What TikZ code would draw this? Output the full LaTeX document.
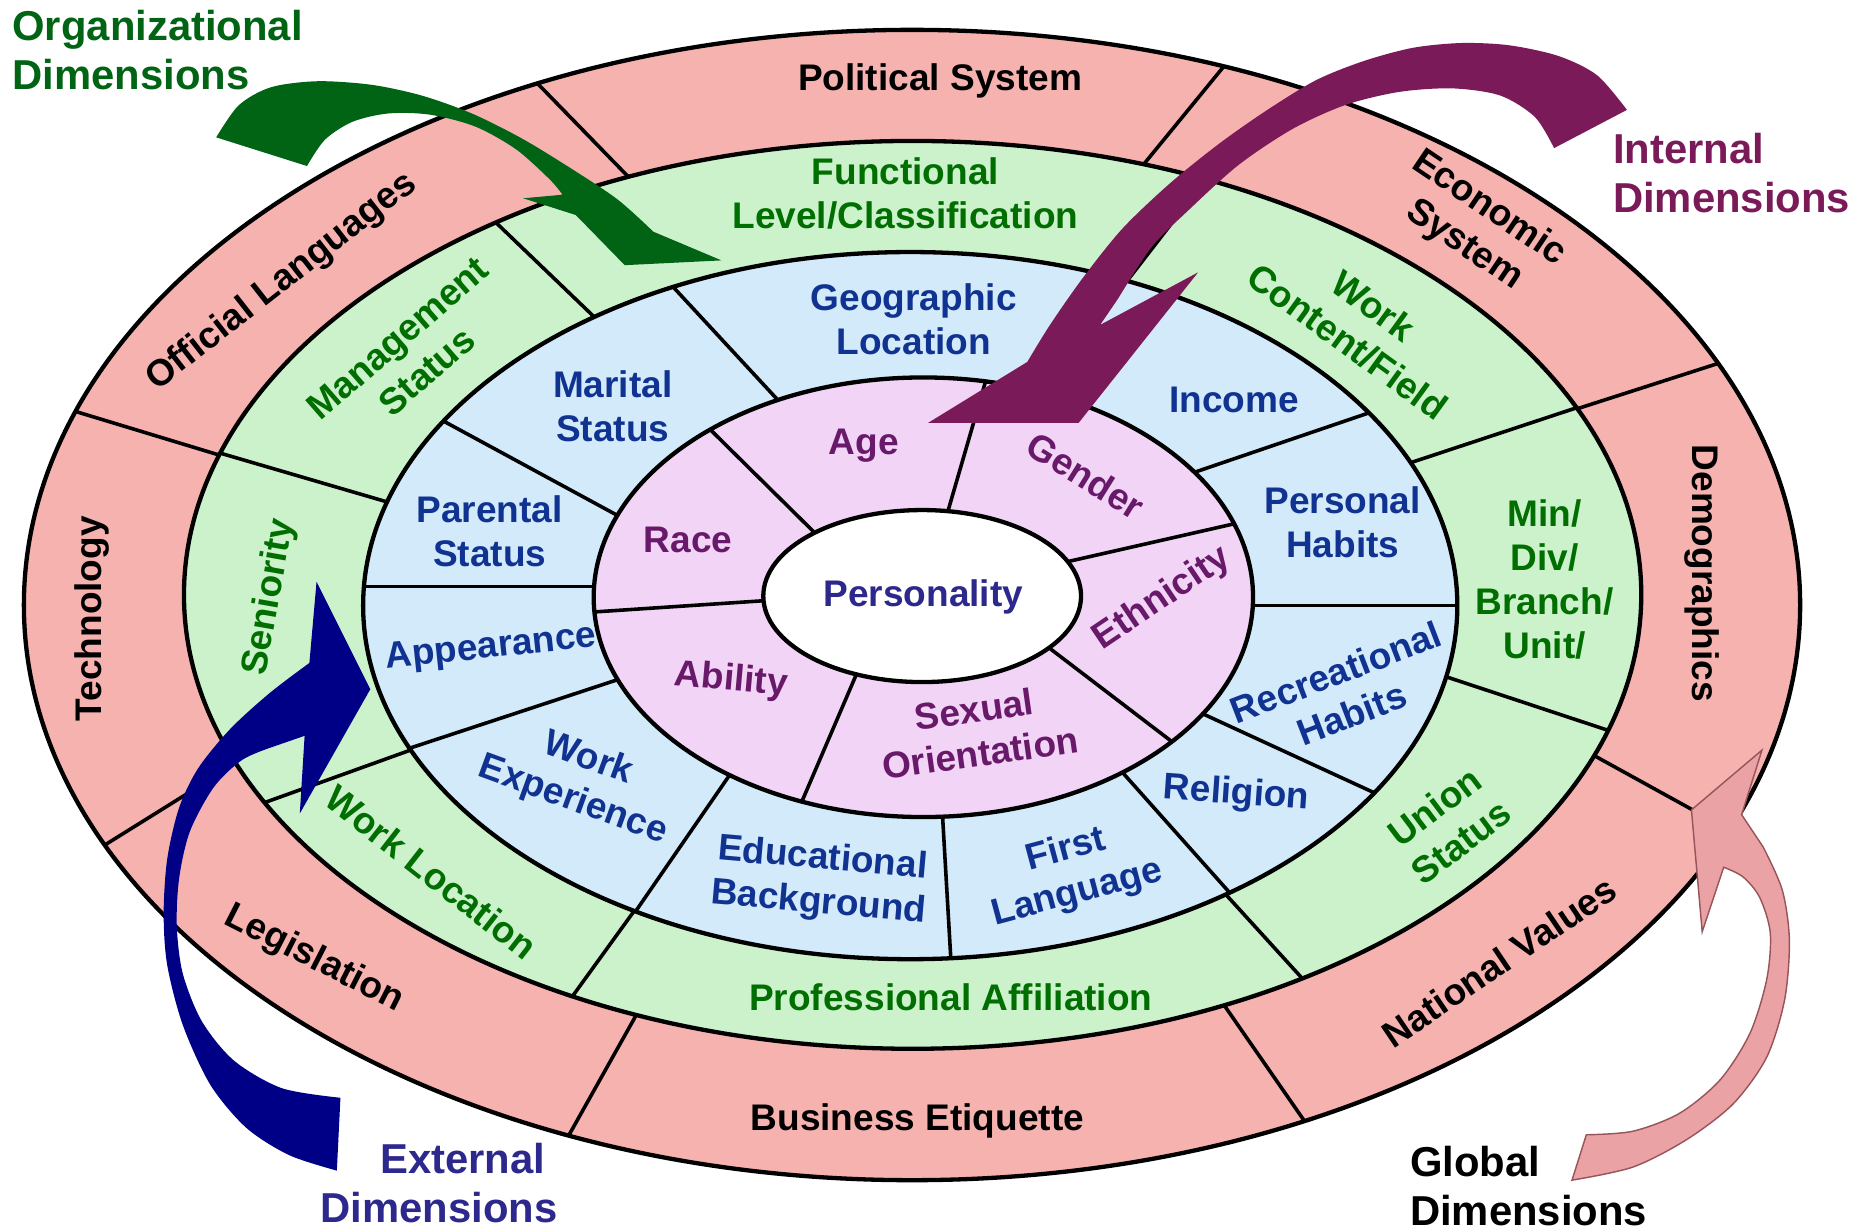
\documentclass[tikz,border=0pt]{standalone}
\usepackage{fontspec}
\setmainfont{Liberation Sans}
\usetikzlibrary{calc}
\definecolor{ringpink}{RGB}{246,178,175}
\definecolor{ringgreen}{RGB}{204,242,204}
\definecolor{ringblue}{RGB}{210,234,250}
\definecolor{ringlilac}{RGB}{241,212,246}
\definecolor{txtgreen}{RGB}{0,110,0}
\definecolor{txtblue}{RGB}{16,50,145}
\definecolor{txtpurple}{RGB}{105,25,105}
\definecolor{txtindigo}{RGB}{45,40,140}
\definecolor{arrgreen}{RGB}{0,100,20}
\definecolor{arrpurple}{RGB}{122,26,88}
\definecolor{arrblue}{RGB}{0,0,135}
\definecolor{arrpink}{RGB}{234,162,165}
\definecolor{arrpinkline}{RGB}{150,85,90}
\tikzstyle{ring}=[draw=black,line width=1.8pt]
\tikzstyle{divider}=[draw=black,line width=1.5pt]
\tikzstyle{lbl}=[
	font=\fontsize{15.5}{18.5}\selectfont\bfseries,
	align=center,
	inner sep=0pt
]
\tikzstyle{dimlbl}=[
	font=\fontsize{17.5}{20.5}\selectfont\bfseries,
	align=left,
	anchor=west,
	inner sep=0pt
]

\begin{document}
\begin{tikzpicture}[x=0.5pt,y=-0.5pt]

	\useasboundingbox (0,0) rectangle (1568,1031);

	\fill[ringpink] (763.5,506.5) ellipse [x radius=743.5, y radius=481.5];
	\begin{scope}
		\clip (763.5,506.5) ellipse [x radius=743.5, y radius=481.5];
		\foreach \ox/\oy/\ix/\iy in {65/345/187/382, 453/73/525/147, 1025/55/962/132,
			1436/305/1321/342, 1417/678/1339/635, 1091/937/1030/849,
			477/949/528/858, 90/706/151/668}
			\draw[divider] ($(\ox,\oy)!-0.3!(\ix,\iy)$) -- ($(\ox,\oy)!1.3!(\ix,\iy)$);
	\end{scope}

	\fill[ringgreen] (764,498) ellipse [x radius=610, y radius=380];
	\begin{scope}
		\clip (764,498) ellipse [x radius=610, y radius=380];
		\foreach \ox/\oy/\ix/\iy in {190/381/320/419, 419/190/495/263, 1007/153/946/232,
			1321/341/1185/386, 1345/611/1218/569, 1091/820/1030/753,
			480/833/527/768, 224/671/338/630}
			\draw[divider] ($(\ox,\oy)!-0.3!(\ix,\iy)$) -- ($(\ox,\oy)!1.3!(\ix,\iy)$);
	\end{scope}

	\fill[ringblue] (762,507) ellipse [x radius=458, y radius=296];
	\begin{scope}
		\clip (762,507) ellipse [x radius=458, y radius=296];
		\foreach \ox/\oy/\ix/\iy in {374/354/516/431, 567/244/655/339, 928/230/906/340,
			1142/347/1004/394, 1218/507/1050/507, 1149/663/1010/599,
			1030/748/940/647, 796/803/789/682, 530/766/610/650,
			338/628/514/570, 305/491/497/491}
			\draw[divider] ($(\ox,\oy)!-0.3!(\ix,\iy)$) -- ($(\ox,\oy)!1.3!(\ix,\iy)$);
	\end{scope}

	\fill[ringlilac] (773,500) ellipse [x radius=276, y radius=184];
	\begin{scope}
		\clip (773,500) ellipse [x radius=276, y radius=184];
		\foreach \ox/\oy/\ix/\iy in {597/362/683/447, 824/323/795/423, 1031/439/899/469,
			976/617/883/546, 673/667/715/569, 502/512/638/503}
			\draw[divider] ($(\ox,\oy)!-0.3!(\ix,\iy)$) -- ($(\ox,\oy)!1.3!(\ix,\iy)$);
	\end{scope}

	\fill[white] (772,499) ellipse [x radius=133, y radius=72];

	\path[ring] (763.5,506.5) ellipse [x radius=743.5, y radius=481.5];
	\path[ring] (764,498) ellipse [x radius=610, y radius=380];
	\path[ring] (762,507) ellipse [x radius=458, y radius=296];
	\path[ring] (773,500) ellipse [x radius=276, y radius=184];
	\path[ring] (772,499) ellipse [x radius=133, y radius=72];

	\node[lbl]             (polsys)   at (787,68)   {Political System};
	\node[lbl,rotate=-34]  (econsys)  at (1236,190) {Economic\\System};
	\node[lbl,rotate=-90]  (demog)    at (1425,480) {Demographics};
	\node[lbl,rotate=34]   (natval)   at (1255,805) {National Values};
	\node[lbl]             (busetiq)  at (768,938)  {Business Etiquette};
	\node[lbl,rotate=-27]  (legis)    at (263,803)  {Legislation};
	\node[lbl,rotate=90]   (tech)     at (77,518)   {Technology};
	\node[lbl,rotate=38]   (offlang)  at (236,236)  {Official Languages};

	\node[lbl,txtgreen]             (funclevel) at (758,162)  {Functional\\Level/Classification};
	\node[lbl,txtgreen,rotate=-36]  (workfield) at (1139,271) {Work\\Content/Field};
	\node[lbl,txtgreen]             (mindiv)    at (1293,485) {Min/\\Div/\\Branch/\\Unit/};
	\node[lbl,txtgreen,rotate=37]   (union)     at (1212,690) {Union\\Status};
	\node[lbl,txtgreen]             (profaff)   at (796,835)  {Professional Affiliation};
	\node[lbl,txtgreen,rotate=-38]  (workloc)   at (361,730)  {Work Location};
	\node[lbl,txtgreen,rotate=80]   (senior)    at (226,500)  {Seniority};
	\node[lbl,txtgreen,rotate=41]   (mgmt)      at (345,297)  {Management\\Status};

	\node[lbl,txtblue]             (geoloc)    at (765,267)  {Geographic\\Location};
	\node[lbl,txtblue]             (income)    at (1033,335) {Income};
	\node[lbl,txtblue]             (pershab)   at (1124,437) {Personal\\Habits};
	\node[lbl,txtblue,rotate=21]   (rechab)    at (1125,580) {Recreational\\Habits};
	\node[lbl,txtblue,rotate=-4]   (religion)  at (1035,665) {Religion};
	\node[lbl,txtblue,rotate=15]   (firstlang) at (897,730)  {First\\Language};
	\node[lbl,txtblue,rotate=-5]   (educ)      at (687,738)  {Educational\\Background};
	\node[lbl,txtblue,rotate=-20]  (workexp)   at (486,653)  {Work\\Experience};
	\node[lbl,txtblue,rotate=6]    (appear)    at (411,543)  {Appearance};
	\node[lbl,txtblue]             (parental)  at (410,445)  {Parental\\Status};
	\node[lbl,txtblue]             (marital)   at (513,340)  {Marital\\Status};

	\node[lbl,txtpurple]            (age)     at (723,373) {Age};
	\node[lbl,txtpurple,rotate=-32] (gender)  at (909,398) {Gender};
	\node[lbl,txtpurple,rotate=34]  (ethnic)  at (973,501) {Ethnicity};
	\node[lbl,txtpurple,rotate=8]   (sexor)   at (818,612) {Sexual\\Orientation};
	\node[lbl,txtpurple,rotate=-5]  (ability) at (612,570) {Ability};
	\node[lbl,txtpurple]            (race)    at (576,452) {Race};
	\node[lbl,txtindigo]            (person)  at (773,500) {Personality};

	\fill[arrgreen] plot[smooth] coordinates {(181,115) (200,88) (227,73) (266,68) (311,71) (353,80)
			(395,95) (437,116) (478,141) (517,167) (547,194)}
		-- (604,218) -- (523,222) -- (482,180) -- (438,166)
		-- plot[smooth] coordinates {(471,163) (460,150) (432,125) (398,106) (360,96) (325,95)
			(295,102) (272,117) (257,139)}
		-- cycle;

	\fill[arrpurple] plot[smooth] coordinates {(1362,92) (1337,63) (1305,47) (1264,38) (1224,36)
			(1183,40) (1142,51) (1102,67) (1061,92) (1021,120) (980,153) (940,191) (907,232)
			(879,272) (860,303)}
		-- (777,354) -- (903,354) -- (1003,228) -- (921,272)
		-- plot[smooth] coordinates {(936,250) (964,207) (996,175) (1037,138) (1082,108)
			(1126,88) (1171,77) (1216,74) (1256,80) (1285,98) (1301,124)}
		-- cycle;

	\fill[arrblue] plot[smooth] coordinates {(282,980) (242,967) (206,944) (176,908) (153,858)
			(140,808) (137,765) (140,719) (150,676) (166,643) (193,610) (226,580) (259,555)}
		-- (265,487) -- (310,577) -- (251,681) -- (255,616)
		-- plot[smooth] coordinates {(229,625) (203,636) (179,659) (159,696) (150,735) (148,775)
			(153,815) (169,855) (196,888) (236,911) (285,919)}
		-- cycle;

	\filldraw[fill=arrpink,draw=arrpinkline,line width=0.6pt]
		plot[smooth] coordinates {(1328,950) (1367,947) (1406,932) (1440,904) (1465,865)
			(1479,820) (1482,781) (1473,751) (1459,734) (1443,726)}
		-- (1425,780) -- (1416,678) -- (1475,628) -- (1458,682)
		-- plot[smooth] coordinates {(1476,709) (1492,745) (1498,787) (1494,837) (1479,885)
			(1451,924) (1412,954) (1367,977) (1316,988)}
		-- cycle;

	\node[dimlbl,arrgreen]  (orgdim)  at (10,42)    {Organizational\\Dimensions};
	\node[dimlbl,arrpurple] (intdim)  at (1350,145) {Internal\\Dimensions};
	\node[dimlbl,txtindigo] (extdim)  at (268,990)  {\hspace*{1.43em}External\\Dimensions};
	\node[dimlbl]           (globdim) at (1180,993) {Global\\Dimensions};

\end{tikzpicture}
\end{document}
